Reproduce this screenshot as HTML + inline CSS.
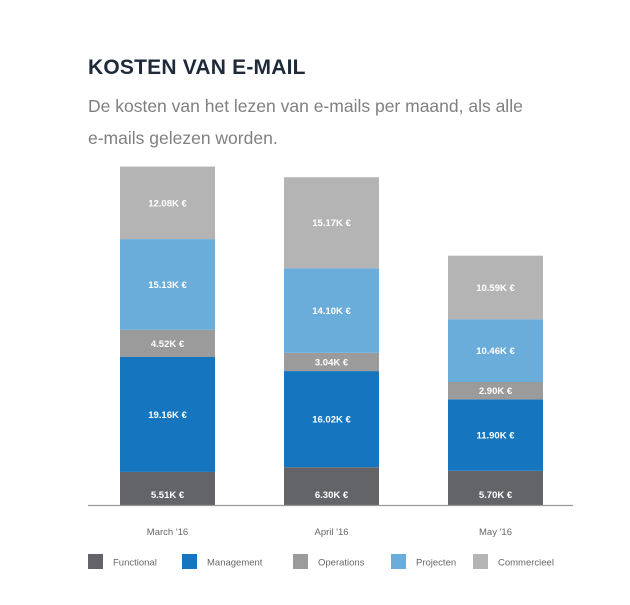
<!DOCTYPE html>
<html><head><meta charset="utf-8"><style>
body{margin:0;background:#fff;width:630px;height:605px;overflow:hidden;font-family:"Liberation Sans",sans-serif}
#t{position:absolute;left:88px;top:56px;font-size:21px;font-weight:bold;color:#1e2a3a;letter-spacing:0.2px}
#s{position:absolute;left:88px;top:90px;font-size:17.5px;color:#808080;line-height:32px;width:480px}
</style></head><body>
<div id="t">KOSTEN VAN E-MAIL</div>
<div id="s">De kosten van het lezen van e-mails per maand, als alle<br>e-mails gelezen worden.</div>
<svg id="c" width="630" height="605" style="position:absolute;left:0;top:0"></svg>
<script>
const categories=["March '16","April '16","May '16"];
const seriesNames=["Functional","Management","Operations","Projecten","Commercieel"];
const functional=[5.51,6.30,5.70];
const management=[19.16,16.02,11.90];
const operations=[4.52,3.04,2.90];
const projecten=[15.13,14.10,10.46];
const commercieel=[12.08,15.17,10.59];
const series=[functional,management,operations,projecten,commercieel];
const colors=["#636467","#1576bf","#9b9b9b","#6badda","#b4b4b4"];
const NS="http://www.w3.org/2000/svg",svg=document.getElementById('c');
const base=505,k=6.0;
const y=v=>base-v*k;
const x=i=>120+i*164;
const bw=95;
function mk(t,a){const e=document.createElementNS(NS,t);for(const n in a)e.setAttribute(n,a[n]);svg.appendChild(e);return e;}
categories.forEach((c,i)=>{
  let cum=0;
  series.forEach((s,j)=>{
    const v=s[i];
    const r=mk('rect',{x:x(i),y:y(cum+v),width:bw,height:v*k,fill:colors[j]});
    
    
    const tx=mk('text',{x:x(i)+bw/2,y:(j==0?base-7:(y(cum+v)+y(cum))/2+3.5),'text-anchor':'middle','font-size':'9.5','font-weight':'bold',fill:'#fff'});
    tx.textContent=v.toFixed(2)+'K €';
    
    
    cum+=v;
  });
  const l=mk('text',{x:x(i)+bw/2,y:535,'text-anchor':'middle','font-size':'9.5',fill:'#666'});
  l.textContent=c;
  
  
});
const ax=mk('line',{x1:88,x2:573,y1:505.5,y2:505.5,stroke:'#999','stroke-width':1.2});


const lx=[88,182,293,391,473];
seriesNames.forEach((n,j)=>{
  const r=mk('rect',{x:lx[j],y:554,width:15,height:15,fill:colors[j]});
  
  
  const t=mk('text',{x:lx[j]+25,y:565.5,'font-size':'9.5',fill:'#666'});
  t.textContent=n;
  
  
});
</script>
</body></html>
